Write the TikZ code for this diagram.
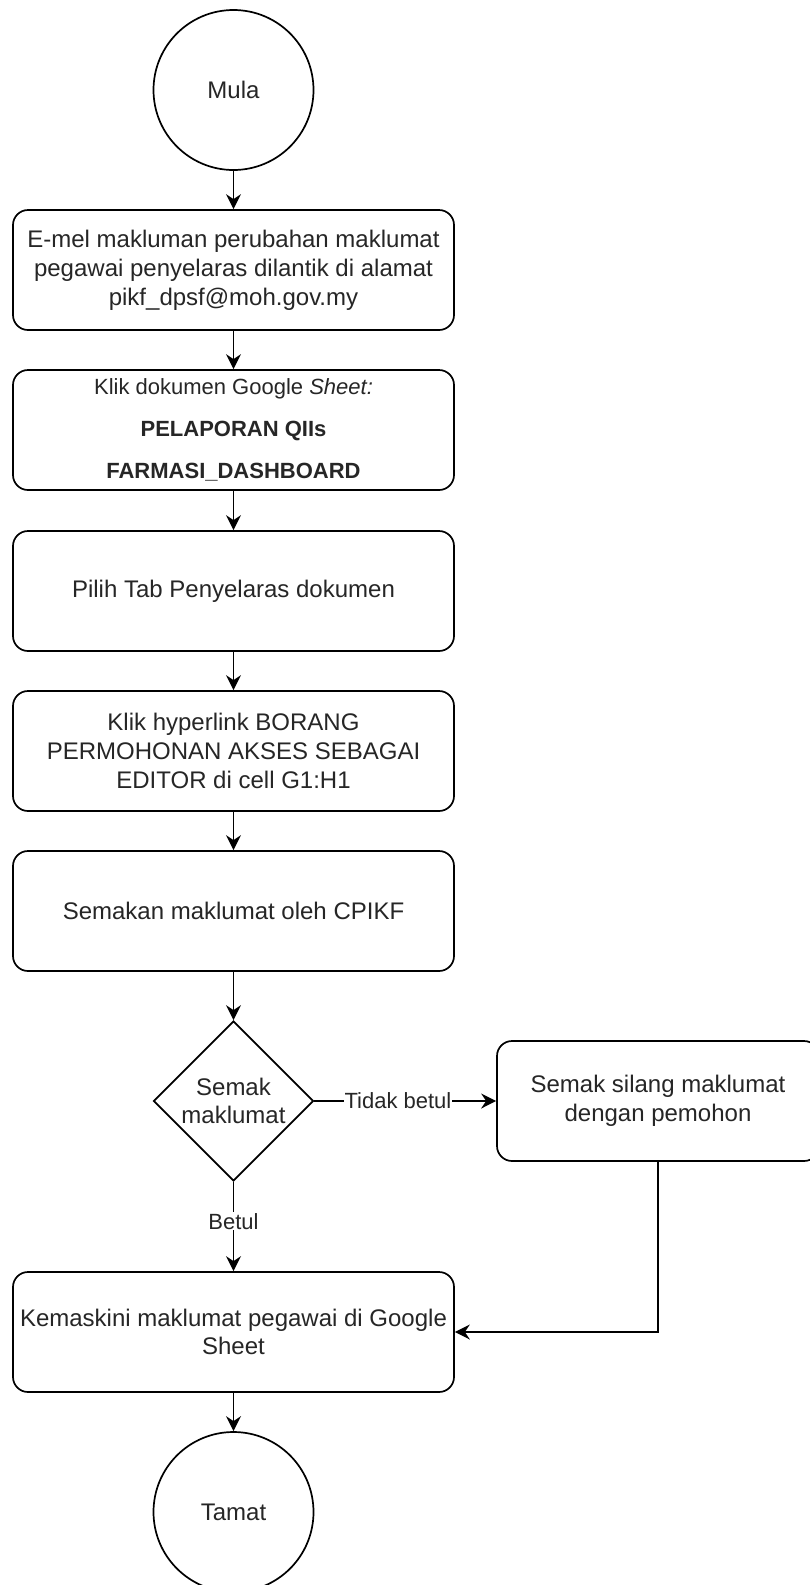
\documentclass[tikz,border=0pt]{standalone}
\usepackage{fontspec}
\setmainfont{Liberation Sans}
\usetikzlibrary{shapes.geometric,arrows.meta}
\begin{document}
\begin{tikzpicture}[x=1pt,y=-1pt,
  every node/.style={font=\fontsize{24}{28.8}\selectfont, text=black!85},
  stepbox/.style={draw, line width=1.7pt, rounded corners=15pt, align=center,
    minimum width=441pt, minimum height=120pt, inner sep=0pt},
  termnode/.style={draw, line width=1.7pt, circle, minimum size=160pt, inner sep=0pt},
  decnode/.style={draw, line width=1.7pt, diamond, aspect=1, minimum width=160pt,
    minimum height=160pt, inner sep=0pt, align=center},
  conn/.style={line width=1.7pt, -{Stealth[length=15pt,width=15pt,inset=5pt]}},
  elabel/.style={fill=white, inner sep=1pt, font=\fontsize{22}{26}\selectfont}
]
\useasboundingbox (0,0) rectangle (810,1585);
\fill[white] (0,0) rectangle (810,1585);

\node[termnode] (mula) at (233.5,90) {Mula};
\node[stepbox] (b1) at (233.5,270) {E-mel makluman perubahan maklumat\\pegawai penyelaras dilantik di alamat\\pikf\_dpsf@moh.gov.my};
\node[stepbox, font=\fontsize{22}{42}\selectfont] (b2) at (233.5,430) {Klik dokumen Google \textit{Sheet:}\\\textbf{PELAPORAN QIIs}\\\textbf{FARMASI\_DASHBOARD}};
\node[stepbox] (b3) at (233.5,591) {Pilih Tab Penyelaras dokumen};
\node[stepbox] (b4) at (233.5,751) {Klik hyperlink BORANG\\PERMOHONAN AKSES SEBAGAI\\EDITOR di cell G1:H1};
\node[stepbox] (b5) at (233.5,911) {Semakan maklumat oleh CPIKF};
\node[decnode] (dia) at (233.5,1101) {Semak\\maklumat};
\node[stepbox, minimum width=322pt] (b6) at (658,1101) {Semak silang maklumat\\dengan pemohon};
\node[stepbox] (b7) at (233.5,1332) {Kemaskini maklumat pegawai di Google\\Sheet};
\node[termnode] (tamat) at (233.5,1512) {Tamat};

\draw[conn] (mula) -- (b1);
\draw[conn] (b1) -- (b2);
\draw[conn] (b2) -- (b3);
\draw[conn] (b3) -- (b4);
\draw[conn] (b4) -- (b5);
\draw[conn] (b5) -- (dia);
\draw[conn] (dia.east) -- node[elabel, pos=0.46] {Tidak betul} (b6.west);
\draw[conn] (dia.south) -- node[elabel, pos=0.44] {Betul} (b7.north);
\draw[conn] (b6.south) |- (b7.east);
\draw[conn] (b7) -- (tamat);
\end{tikzpicture}
\end{document}
